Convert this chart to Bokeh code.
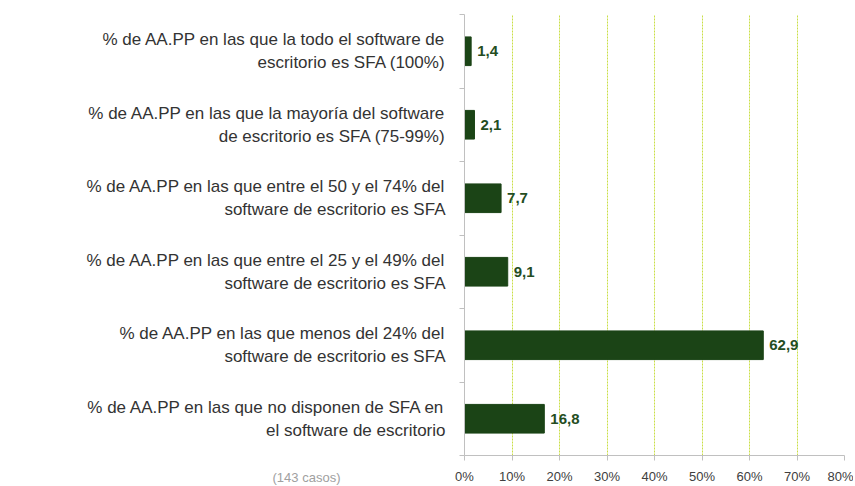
from bokeh.plotting import figure
from bokeh.models import ColumnDataSource, FixedTicker, Range1d, Label, LabelSet
from bokeh.core.properties import value
from bokeh.embed import file_html
from bokeh.resources import INLINE

categories = [
    "% de AA.PP en las que la todo el software de\nescritorio es SFA (100%)",
    "% de AA.PP en las que la mayoría del software\nde escritorio es SFA (75-99%)",
    "% de AA.PP en las que entre el 50 y el 74% del\nsoftware de escritorio es SFA",
    "% de AA.PP en las que entre el 25 y el 49% del\nsoftware de escritorio es SFA",
    "% de AA.PP en las que menos del 24% del\nsoftware de escritorio es SFA",
    "% de AA.PP en las que no disponen de SFA en\nel software de escritorio",
]
values = [1.4, 2.1, 7.7, 9.1, 62.9, 16.8]
value_labels = ["1,4", "2,1", "7,7", "9,1", "62,9", "16,8"]
x_ticks = [0, 10, 20, 30, 40, 50, 60, 70, 80]
note = "(143 casos)"

n = len(categories)
ypos = [n - i - 0.5 for i in range(n)]

src = ColumnDataSource(dict(y=ypos, v=values, lab=value_labels))

FONT = "Liberation Sans"
p = figure(width=853, height=484, output_backend="svg", toolbar_location=None,
           x_range=Range1d(0, 80), y_range=Range1d(0, n),
           frame_width=380, frame_height=441,
           min_border_left=464, min_border_right=9, min_border_top=14, min_border_bottom=29)
p.outline_line_color = None
p.background_fill_color = "white"

p.hbar(y="y", right="v", left=0, height=0.39, source=src, color="#1b4416")

labels = LabelSet(x="v", y="y", text="lab", source=src, x_offset=6,
                  text_baseline="middle", text_align="left",
                  text_font=value(FONT), text_font_style="bold", text_font_size="15px",
                  text_color="#244d1f")
p.add_layout(labels)

# x axis
p.xaxis.ticker = FixedTicker(ticks=x_ticks)
p.xaxis.major_label_overrides = {t: f"{t}%" for t in x_ticks}
p.xaxis.axis_line_color = "#c0c0c0"
p.xaxis.major_tick_line_color = "#c0c0c0"
p.xaxis.major_tick_out = 5
p.xaxis.major_tick_in = 0
p.xaxis.minor_tick_line_color = None
p.xaxis.major_label_text_font = FONT
p.xaxis.major_label_text_font_size = "13px"
p.xaxis.major_label_text_color = "#404040"
p.xaxis.major_label_standoff = 8

# y axis
p.yaxis.ticker = FixedTicker(ticks=ypos, minor_ticks=list(range(n + 1)))
p.yaxis.major_label_overrides = {y: c for y, c in zip(ypos, categories)}
p.yaxis.axis_line_color = "#c0c0c0"
p.yaxis.major_tick_line_color = None
p.yaxis.major_tick_out = 0
p.yaxis.major_tick_in = 0
p.yaxis.minor_tick_line_color = "#c0c0c0"
p.yaxis.minor_tick_out = 5
p.yaxis.minor_tick_in = 0
p.yaxis.major_label_text_font = FONT
p.yaxis.major_label_text_font_size = "17px"
p.yaxis.major_label_text_color = "#333333"
p.yaxis.major_label_standoff = 14

p.ygrid.grid_line_color = None
p.xgrid.ticker = FixedTicker(ticks=x_ticks[1:])
p.xgrid.grid_line_color = "#c9de45"
p.xgrid.grid_line_dash = "2 1"
p.xgrid.grid_line_width = 1

p.add_layout(Label(x=306, y=477, x_units="canvas", y_units="canvas", text=note,
                   text_align="center", text_baseline="middle", text_font=FONT,
                   text_font_size="13px", text_color="#a0a0a0"), "below")

open("out.html", "w").write(file_html(p, INLINE))
